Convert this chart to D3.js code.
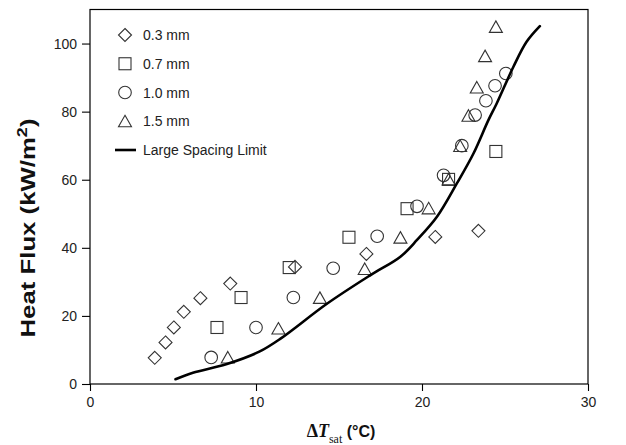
<!DOCTYPE html>
<html>
<head>
<meta charset="utf-8">
<script src="https://cdn.jsdelivr.net/npm/d3@7"></script>
<style>
  body { margin: 0; background: #fff; }
  svg { display: block; font-family: "Liberation Sans", Arial, sans-serif; }
</style>
</head>
<body>
<div id="chart"></div>
<script>
var width = 626;
var height = 445;

// data: [dT_sat (C), heat flux (kW/m2)]
var gap03 = [[3.9,7.7],[4.55,12.2],[5.05,16.6],[5.65,21.2],[6.65,25.2],[8.45,29.5],[12.35,34.4],[16.65,38.2],[20.8,43.2],[23.4,45.0]];
var gap07 = [[7.65,16.6],[9.1,25.4],[12.0,34.2],[15.6,43.1],[19.1,51.5],[21.6,60.1],[24.45,68.3]];
var gap10 = [[7.3,7.8],[10.0,16.6],[12.25,25.4],[14.65,34.0],[17.3,43.4],[19.7,52.2],[21.3,61.3],[22.4,70.0],[23.2,79.0],[23.85,83.2],[24.4,87.6],[25.05,91.2]];
var gap15 = [[8.3,7.8],[11.35,16.3],[13.85,25.3],[16.55,33.8],[18.7,43.0],[20.4,51.6],[21.6,60.1],[22.3,69.9],[22.8,78.8],[23.3,87.1],[23.8,96.3],[24.45,104.9]];
var largeSpacing = [[5.15,1.4],[6.2,3.3],[8.2,5.8],[10.2,9.5],[11.5,13.4],[14.25,23.5],[16.9,32.0],[18.7,37.4],[19.7,42.3],[20.9,49.1],[22.1,58.9],[23.1,67.7],[24.0,77.5],[24.5,82.4],[25.5,93.1],[26.3,100.5],[27.1,105.1]];

var xTicks = [0, 10, 20, 30];
var yTicks = [0, 20, 40, 60, 80, 100];
var legendLabels = ["0.3 mm", "0.7 mm", "1.0 mm", "1.5 mm", "Large Spacing Limit"];

var plotLeft = 90, plotRight = 588, plotTop = 9.5, plotBottom = 384;
var markStroke = "#333";

var x = d3.scaleLinear().domain([0, 30]).range([plotLeft, plotRight]);
var y = d3.scaleLinear().domain([0, 110]).range([plotBottom, plotTop]);

var svg = d3.select("#chart").append("svg")
    .attr("width", width)
    .attr("height", height);

// frame
svg.append("rect")
    .attr("x", plotLeft).attr("y", plotTop)
    .attr("width", plotRight - plotLeft).attr("height", plotBottom - plotTop)
    .attr("fill", "none").attr("stroke", "#000").attr("stroke-width", 1.2);

var xAxis = svg.append("g")
    .attr("transform", "translate(0," + plotBottom + ")")
    .call(d3.axisBottom(x).tickValues(xTicks).tickSize(7).tickPadding(6).tickSizeOuter(0));
var yAxis = svg.append("g")
    .attr("transform", "translate(" + plotLeft + ",0)")
    .call(d3.axisLeft(y).tickValues(yTicks).tickSize(8).tickPadding(5).tickSizeOuter(0));

[xAxis, yAxis].forEach(function(a) {
    a.select(".domain").remove();
    a.selectAll("line").attr("stroke", "#000").attr("stroke-width", 1.1);
    a.selectAll("text").attr("fill", "#222").style("font-size", "14px")
        .style("font-family", "'Liberation Sans', Arial, sans-serif");
});

// marker symbols
function drawMark(g, kind, cx, cy) {
    if (kind === "diamond") {
        g.append("path")
            .attr("d", "M" + cx + "," + (cy - 6.5) + "L" + (cx + 6.5) + "," + cy + "L" + cx + "," + (cy + 6.5) + "L" + (cx - 6.5) + "," + cy + "Z");
    } else if (kind === "square") {
        g.append("rect").attr("x", cx - 6).attr("y", cy - 6).attr("width", 12).attr("height", 12);
    } else if (kind === "circle") {
        g.append("circle").attr("cx", cx).attr("cy", cy).attr("r", 6.3);
    } else {
        g.append("path")
            .attr("d", "M" + cx + "," + (cy - 6) + "L" + (cx + 6.5) + "," + (cy + 5.5) + "L" + (cx - 6.5) + "," + (cy + 5.5) + "Z");
    }
}

var seriesList = [
    {data: gap03, kind: "diamond"},
    {data: gap07, kind: "square"},
    {data: gap10, kind: "circle"},
    {data: gap15, kind: "triangle"}
];

var marks = svg.append("g")
    .attr("fill", "none").attr("stroke", markStroke).attr("stroke-width", 1.1);
seriesList.forEach(function(s) {
    s.data.forEach(function(d) {
        drawMark(marks, s.kind, x(d[0]), y(d[1]));
    });
});

// large spacing limit curve
var line = d3.line()
    .x(d => x(d[0]))
    .y(d => y(d[1]))
    .curve(d3.curveCatmullRom.alpha(0.5));

svg.append("path")
    .datum(largeSpacing)
    .attr("d", line)
    .attr("fill", "none")
    .attr("stroke", "#000")
    .attr("stroke-width", 2.6)
    .attr("stroke-linecap", "round");

// legend
var legend = svg.append("g");
var rowY = d3.scaleLinear().domain([0, 4]).range([35, 150]);
legendLabels.forEach(function(lab, i) {
    var cy = rowY(i);
    if (i < 4) {
        var g = legend.append("g").attr("fill", "none").attr("stroke", markStroke).attr("stroke-width", 1.1);
        drawMark(g, seriesList[i].kind, 125, cy);
    } else {
        legend.append("line")
            .attr("x1", 115).attr("x2", 136)
            .attr("y1", cy).attr("y2", cy)
            .attr("stroke", "#000").attr("stroke-width", 2.6);
    }
    legend.append("text")
        .attr("x", 143).attr("y", cy + 5)
        .attr("fill", "#222")
        .style("font-size", "14px")
        .text(lab);
});

// y axis title (stretched a little, as in the original)
var yTitle = svg.append("text")
    .attr("transform", "translate(35,228) rotate(-90)")
    .attr("text-anchor", "middle")
    .attr("textLength", 219)
    .attr("lengthAdjust", "spacingAndGlyphs")
    .style("font-weight", "bold")
    .style("font-size", "20px")
    .attr("fill", "#111");
yTitle.append("tspan").text("Heat Flux (kW/m");
yTitle.append("tspan").attr("dy", -8).style("font-size", "14px").text("2");
yTitle.append("tspan").attr("dy", 8).text(")");

// x axis title
var xTitle = svg.append("text")
    .attr("x", 341).attr("y", 437)
    .attr("text-anchor", "middle")
    .attr("fill", "#111");
xTitle.append("tspan")
    .style("font-family", "'Liberation Serif', 'Times New Roman', serif")
    .style("font-size", "18px").style("font-weight", "bold")
    .text("\u0394");
xTitle.append("tspan")
    .style("font-family", "'Liberation Serif', 'Times New Roman', serif")
    .style("font-size", "18px").style("font-weight", "bold").style("font-style", "italic")
    .text("T");
xTitle.append("tspan")
    .attr("dy", 6)
    .style("font-family", "'Liberation Serif', 'Times New Roman', serif")
    .style("font-size", "12px")
    .text("sat");
xTitle.append("tspan")
    .attr("dy", -6)
    .style("font-size", "16px").style("font-weight", "bold")
    .text(" (\u00B0C)");
</script>
</body>
</html>
